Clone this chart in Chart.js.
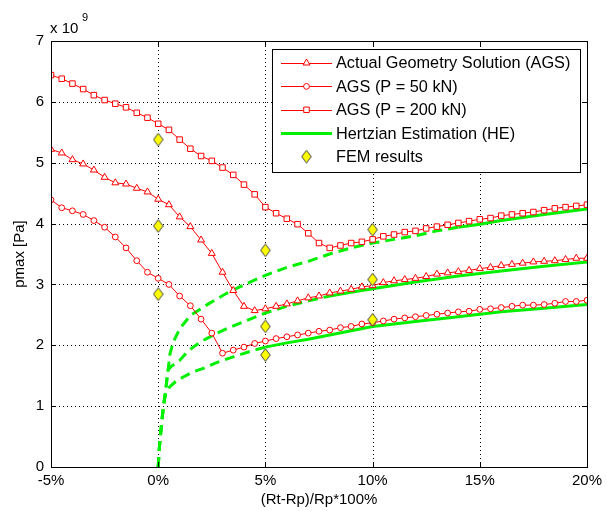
<!DOCTYPE html>
<html>
<head>
<meta charset="utf-8">
<script src="https://cdn.jsdelivr.net/npm/chart.js@4.4.1/dist/chart.umd.min.js"></script>
<style>
  html, body { margin: 0; padding: 0; background: #fff; }
  #wrap { width: 607px; height: 511px; }
</style>
</head>
<body>
<div id="wrap"><canvas id="chart" width="607" height="511"></canvas></div>
<script>
// x values of the AGS markers, (Rt-Rp)/Rp in %
const xs = [-5, -4.5, -4, -3.5, -3, -2.5, -2, -1.5, -1, -0.5, 0, 0.5, 1, 1.5, 2, 2.5, 3, 3.5, 4, 4.5,
  5, 5.5, 6, 6.5, 7, 7.5, 8, 8.5, 9, 9.5, 10, 10.5, 11, 11.5, 12, 12.5, 13, 13.5, 14, 14.5,
  15, 15.5, 16, 16.5, 17, 17.5, 18, 18.5, 19, 19.5, 20];

// pmax in 1e9 Pa
const agsDefault = [5.22, 5.16, 5.05, 4.98, 4.88, 4.76, 4.67, 4.65, 4.58, 4.52, 4.40, 4.31, 4.11, 3.95, 3.73, 3.51, 3.20, 2.90, 2.64, 2.57,
  2.60, 2.64, 2.68, 2.73, 2.78, 2.81, 2.86, 2.89, 2.92, 2.96, 2.98, 3.03, 3.06, 3.08, 3.10, 3.13, 3.17, 3.19, 3.21, 3.23,
  3.26, 3.28, 3.31, 3.33, 3.35, 3.37, 3.38, 3.39, 3.41, 3.43, 3.43];
const ags50 = [4.39, 4.26, 4.21, 4.15, 4.05, 3.94, 3.78, 3.60, 3.39, 3.20, 3.10, 3.00, 2.81, 2.65, 2.43, 2.20, 1.87, 1.92, 1.97, 2.03,
  2.07, 2.11, 2.14, 2.17, 2.20, 2.23, 2.25, 2.29, 2.31, 2.35, 2.37, 2.40, 2.43, 2.45, 2.47, 2.49, 2.51, 2.53, 2.55, 2.56,
  2.59, 2.60, 2.62, 2.64, 2.66, 2.66, 2.67, 2.69, 2.72, 2.72, 2.74];
const ags200 = [6.44, 6.38, 6.30, 6.21, 6.11, 6.03, 5.97, 5.91, 5.82, 5.74, 5.64, 5.54, 5.38, 5.23, 5.11, 5.03, 4.92, 4.80, 4.64, 4.48,
  4.27, 4.17, 4.08, 3.99, 3.84, 3.68, 3.60, 3.64, 3.68, 3.70, 3.74, 3.79, 3.82, 3.86, 3.88, 3.92, 3.95, 3.98, 4.01, 4.04,
  4.07, 4.09, 4.13, 4.15, 4.17, 4.19, 4.22, 4.25, 4.27, 4.29, 4.31];

// Hertzian estimation curves
const heLowX = [0, 0.05, 0.1, 0.17, 0.23, 0.28, 0.33, 0.4, 0.55, 0.8, 1.17, 1.6, 2.1, 2.75, 3.5, 4.2, 5, 6, 7, 8, 9, 10, 12, 14, 16, 18, 20];
const heLowY = [0, 0.3, 0.5, 0.75, 0.95, 1.08, 1.2, 1.26, 1.32, 1.4, 1.48, 1.56, 1.62, 1.72, 1.81, 1.89, 1.97, 2.04, 2.1, 2.17, 2.24, 2.31, 2.39, 2.47, 2.55, 2.61, 2.67];
const heMidX = [0, 0.05, 0.1, 0.17, 0.23, 0.28, 0.33, 0.4, 0.47, 0.6, 0.8, 1, 1.3, 1.63, 2.1, 2.7, 3.3, 3.94, 5, 6, 7, 8, 9, 10, 12, 14, 16, 18, 20];
const heMidY = [0, 0.3, 0.5, 0.75, 0.95, 1.08, 1.2, 1.42, 1.6, 1.65, 1.7, 1.75, 1.87, 1.97, 2.08, 2.19, 2.29, 2.38, 2.53, 2.64, 2.73, 2.81, 2.87, 2.93, 3.04, 3.14, 3.22, 3.30, 3.37];
const heTopX = [0, 0.05, 0.1, 0.17, 0.23, 0.28, 0.33, 0.4, 0.47, 0.55, 0.7, 1, 1.5, 2.25, 3.17, 4.1, 5, 6, 7, 8, 9, 10, 11, 12, 13, 14, 15, 16, 18, 20];
const heTopY = [0, 0.3, 0.5, 0.75, 0.95, 1.08, 1.2, 1.42, 1.62, 1.86, 2.05, 2.27, 2.49, 2.66, 2.85, 3.01, 3.15, 3.28, 3.38, 3.5, 3.6, 3.68, 3.74, 3.8, 3.88, 3.94, 3.99, 4.05, 4.15, 4.24];

// FEM results
const femX = [0, 0, 0, 5, 5, 5, 10, 10, 10];
const femY = [5.38, 3.96, 2.84, 3.56, 2.31, 1.84, 3.90, 3.08, 2.42];

const legendLabels = ['Actual Geometry Solution (AGS)', 'AGS (P = 50 kN)', 'AGS (P = 200 kN)', 'Hertzian Estimation (HE)', 'FEM results'];

const FONT = 'Liberation Sans, Arial, Helvetica, sans-serif';
Chart.defaults.font.family = FONT;
Chart.defaults.font.size = 15;
Chart.defaults.color = '#000';

// yellow diamond used for the FEM markers
function makeDiamond() {
  const c = document.createElement('canvas');
  c.width = 11; c.height = 14;
  const g = c.getContext('2d');
  g.beginPath();
  g.moveTo(5.5, 0.7); g.lineTo(10.3, 7); g.lineTo(5.5, 13.3); g.lineTo(0.7, 7); g.closePath();
  g.fillStyle = '#ffff00'; g.fill();
  g.strokeStyle = '#404040'; g.lineWidth = 1; g.stroke();
  return c;
}
const diamond = makeDiamond();

const pts = (xv, yv) => xv.map((v, i) => ({ x: v, y: yv[i] }));

function redSeries(label, values, style, radius) {
  return {
    label, data: pts(xs, values), showLine: true, order: 1,
    borderColor: '#ff0000', borderWidth: 1,
    pointStyle: style, pointRadius: radius, pointBorderColor: '#ff0000',
    pointBackgroundColor: '#ffffff', pointBorderWidth: 1
  };
}
function heSeries(label, xv, yv, solidFrom) {
  return {
    label, data: pts(xv, yv), showLine: true, order: 2,
    borderColor: '#00f000', borderWidth: 3, pointRadius: 0,
    segment: { borderDash: c => c.p0.parsed.x < solidFrom ? [10, 6] : undefined }
  };
}

// dotted grid lines at the inner ticks
const grid = {
  id: 'dotgrid',
  beforeDatasetsDraw(chart) {
    const { ctx, chartArea: a, scales: { x, y } } = chart;
    ctx.save();
    ctx.strokeStyle = '#000';
    ctx.lineWidth = 1;
    ctx.setLineDash([1, 3]);
    ctx.beginPath();
    x.ticks.forEach(t => {
      if (t.value <= x.min || t.value >= x.max) return;
      const px = Math.round(x.getPixelForValue(t.value)) + 0.5;
      ctx.moveTo(px, a.bottom); ctx.lineTo(px, a.top);
    });
    y.ticks.forEach(t => {
      if (t.value <= y.min || t.value >= y.max) return;
      const py = Math.round(y.getPixelForValue(t.value)) + 0.5;
      ctx.moveTo(a.left, py); ctx.lineTo(a.right, py);
    });
    ctx.stroke();
    ctx.restore();
  }
};

// box, inward tick marks, exponent label and legend
const decor = {
  id: 'decor',
  afterDraw(chart) {
    const { ctx, chartArea: a, scales: { x, y } } = chart;
    ctx.save();
    ctx.strokeStyle = '#000';
    ctx.lineWidth = 1;
    ctx.strokeRect(a.left + 0.5, a.top + 0.5, a.right - a.left, a.bottom - a.top);
    ctx.beginPath();
    x.ticks.forEach(t => {
      const px = Math.round(x.getPixelForValue(t.value)) + 0.5;
      ctx.moveTo(px, a.bottom); ctx.lineTo(px, a.bottom - 5);
      ctx.moveTo(px, a.top); ctx.lineTo(px, a.top + 5);
    });
    y.ticks.forEach(t => {
      const py = Math.round(y.getPixelForValue(t.value)) + 0.5;
      ctx.moveTo(a.left, py); ctx.lineTo(a.left + 5, py);
      ctx.moveTo(a.right, py); ctx.lineTo(a.right - 5, py);
    });
    ctx.stroke();

    // x 10^9
    ctx.fillStyle = '#000';
    ctx.textBaseline = 'alphabetic';
    ctx.font = '15px ' + FONT;
    ctx.fillText('x 10', 50, 33);
    ctx.font = '11px ' + FONT;
    ctx.fillText('9', 82, 21);

    // legend
    const L = { left: 272, top: 49, right: 580, bottom: 172 };
    ctx.fillStyle = '#fff';
    ctx.fillRect(L.left, L.top, L.right - L.left, L.bottom - L.top);
    ctx.strokeStyle = '#000';
    ctx.strokeRect(L.left + 0.5, L.top + 0.5, L.right - L.left, L.bottom - L.top);
    const sets = chart.data.datasets;
    const legendSets = [sets[0], sets[1], sets[2], sets[3], sets[6]];
    legendLabels.forEach((txt, i) => {
      const ry = 63 + i * 23.4;
      const ds = legendSets[i];
      if (i < 4) {
        ctx.strokeStyle = ds.borderColor;
        ctx.lineWidth = ds.borderWidth;
        ctx.beginPath();
        ctx.moveTo(281, Math.round(ry) + 0.5); ctx.lineTo(332, Math.round(ry) + 0.5);
        ctx.stroke();
      }
      if (ds.pointRadius > 0) {
        ctx.fillStyle = ds.pointBackgroundColor || '#fff';
        ctx.strokeStyle = ds.pointBorderColor || '#000';
        ctx.lineWidth = 1;
        Chart.helpers.drawPoint(ctx, { pointStyle: ds.pointStyle, radius: ds.pointRadius, borderWidth: 1, rotation: 0 }, 306.5, ry);
      }
      ctx.fillStyle = '#000';
      ctx.font = '16.3px ' + FONT;
      ctx.textBaseline = 'middle';
      ctx.fillText(txt, 336, ry + 1);
    });
    ctx.restore();
  }
};

new Chart(document.getElementById('chart'), {
  type: 'scatter',
  data: {
    datasets: [
      redSeries(legendLabels[0], agsDefault, 'triangle', 4),
      redSeries(legendLabels[1], ags50, 'circle', 2.9),
      redSeries(legendLabels[2], ags200, 'rect', 3.9),
      heSeries('HE (P = 200 kN)', heTopX, heTopY, 14),
      heSeries('HE (P = 100 kN)', heMidX, heMidY, 8),
      heSeries('HE (P = 50 kN)', heLowX, heLowY, 5),
      {
        label: legendLabels[4], data: pts(femX, femY), order: 0,
        pointStyle: diamond, pointRadius: 6, showLine: false
      }
    ]
  },
  options: {
    responsive: false,
    animation: false,
    layout: { padding: { top: 41, right: 15, left: 0, bottom: 0 } },
    plugins: { legend: { display: false }, tooltip: { enabled: false } },
    scales: {
      x: {
        type: 'linear', min: -5, max: 20,
        afterFit: s => { s.height = 44; },
        ticks: { stepSize: 5, padding: 5, callback: v => v + '%' },
        grid: { display: false, drawTicks: false },
        border: { display: false },
        title: { display: true, text: '(Rt-Rp)/Rp*100%', font: { size: 15 }, padding: { top: 0, bottom: 2 } }
      },
      y: {
        type: 'linear', min: 0, max: 7,
        afterFit: s => { s.width = 51; },
        ticks: { stepSize: 1, padding: 7 },
        grid: { display: false, drawTicks: false },
        border: { display: false },
        title: { display: true, text: 'pmax [Pa]', font: { size: 15 }, padding: { top: 11, bottom: 0 } }
      }
    }
  },
  plugins: [grid, decor]
});
</script>
</body>
</html>
